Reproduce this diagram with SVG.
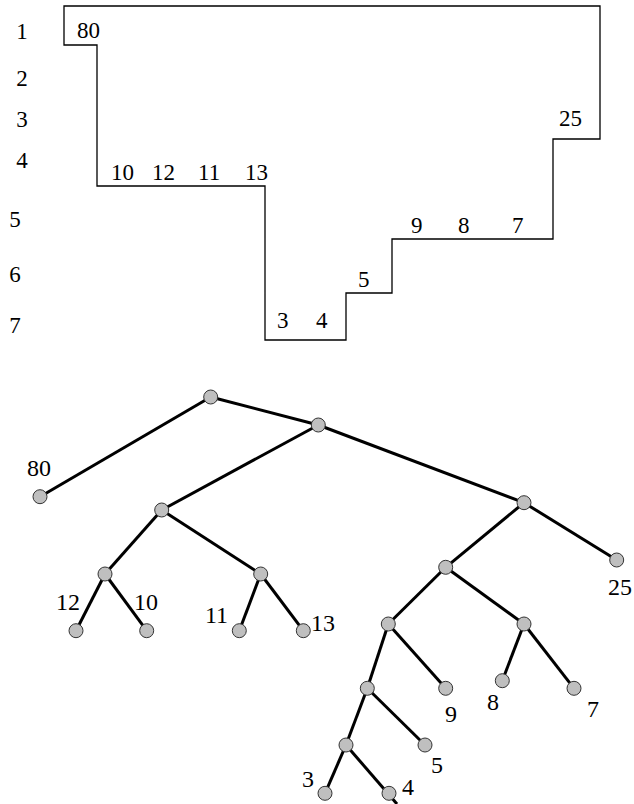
<svg xmlns="http://www.w3.org/2000/svg" width="634" height="804" viewBox="0 0 634 804">
<style>
.t{font-family:"Liberation Serif","Times New Roman",serif;font-size:23px;fill:#000}
.tt{font-family:"Liberation Serif","Times New Roman",serif;font-size:24px;fill:#000}
.e{stroke:#000;stroke-width:3;fill:none}
.n{fill:#bfbfbf;stroke:#333;stroke-width:1}
</style>
<rect width="634" height="804" fill="#fff"/>
<g id="profile">
<path d="M64,6 H600 V139 H553 V239 H392 V293 H346 V340 H265 V186 H97 V45 H64 Z" fill="none" stroke="#000" stroke-width="1.3"/>
</g>
<g id="row-labels" class="t" text-anchor="middle">
<text x="22" y="39">1</text>
<text x="22" y="86">2</text>
<text x="22" y="127">3</text>
<text x="22" y="168">4</text>
<text x="15" y="227">5</text>
<text x="15" y="282">6</text>
<text x="15" y="333">7</text>
</g>
<g id="profile-labels" class="t">
<text x="77" y="38">80</text>
<text x="111" y="180">10</text>
<text x="152" y="180">12</text>
<text x="198" y="180">11</text>
<text x="245" y="180">13</text>
<text x="277" y="328">3</text>
<text x="316" y="328">4</text>
<text x="358" y="287">5</text>
<text x="411" y="233">9</text>
<text x="458" y="233">8</text>
<text x="512" y="233">7</text>
<text x="559" y="126">25</text>
</g>
<g id="connectors" class="e">
<line x1="210.7" y1="397" x2="318.3" y2="425"/>
<line x1="210.7" y1="397" x2="40" y2="496.7"/>
<line x1="318.3" y1="425" x2="161.7" y2="510"/>
<line x1="318.3" y1="425" x2="524" y2="502.7"/>
<line x1="161.7" y1="510" x2="105" y2="574"/>
<line x1="161.7" y1="510" x2="260.7" y2="574"/>
<line x1="105" y1="574" x2="76" y2="630.7"/>
<line x1="105" y1="574" x2="146.7" y2="630.7"/>
<line x1="260.7" y1="574" x2="239.3" y2="630.7"/>
<line x1="260.7" y1="574" x2="303.3" y2="630.7"/>
<line x1="524" y1="502.7" x2="616.7" y2="560"/>
<line x1="524" y1="502.7" x2="445.7" y2="567.3"/>
<line x1="445.7" y1="567.3" x2="388.3" y2="624"/>
<line x1="445.7" y1="567.3" x2="524" y2="624"/>
<line x1="388.3" y1="624" x2="367.3" y2="688.3"/>
<line x1="388.3" y1="624" x2="445.7" y2="688.3"/>
<line x1="524" y1="624" x2="502.3" y2="680.7"/>
<line x1="524" y1="624" x2="574" y2="688.3"/>
<line x1="367.3" y1="688.3" x2="346" y2="745"/>
<line x1="367.3" y1="688.3" x2="425" y2="745"/>
<line x1="346" y1="745" x2="325" y2="793.3"/>
<line x1="346" y1="745" x2="397" y2="804"/>
</g>
<g id="n-root"><circle class="n" cx="210.7" cy="397" r="7"/></g>
<g id="n-a"><circle class="n" cx="318.3" cy="425" r="7"/></g>
<g id="leaf-80"><circle class="n" cx="40" cy="496.7" r="7"/><text class="tt" x="27" y="476">80</text></g>
<g id="n-b"><circle class="n" cx="161.7" cy="510" r="7"/></g>
<g id="n-c"><circle class="n" cx="105" cy="574" r="7"/></g>
<g id="n-d"><circle class="n" cx="260.7" cy="574" r="7"/></g>
<g id="leaf-12"><circle class="n" cx="76" cy="630.7" r="7"/><text class="tt" x="56" y="610">12</text></g>
<g id="leaf-10"><circle class="n" cx="146.7" cy="630.7" r="7"/><text class="tt" x="134" y="610">10</text></g>
<g id="leaf-11"><circle class="n" cx="239.3" cy="630.7" r="7"/><text class="tt" x="205" y="623">11</text></g>
<g id="leaf-13"><circle class="n" cx="303.3" cy="630.7" r="7"/><text class="tt" x="311" y="631">13</text></g>
<g id="n-e"><circle class="n" cx="524" cy="502.7" r="7"/></g>
<g id="leaf-25"><circle class="n" cx="616.7" cy="560" r="7"/><text class="tt" x="608" y="595">25</text></g>
<g id="n-f"><circle class="n" cx="445.7" cy="567.3" r="7"/></g>
<g id="n-g"><circle class="n" cx="388.3" cy="624" r="7"/></g>
<g id="n-h"><circle class="n" cx="524" cy="624" r="7"/></g>
<g id="n-i"><circle class="n" cx="367.3" cy="688.3" r="7"/></g>
<g id="leaf-9"><circle class="n" cx="445.7" cy="688.3" r="7"/><text class="tt" x="445" y="722">9</text></g>
<g id="leaf-8"><circle class="n" cx="502.3" cy="680.7" r="7"/><text class="tt" x="487" y="710">8</text></g>
<g id="leaf-7"><circle class="n" cx="574" cy="688.3" r="7"/><text class="tt" x="587" y="717">7</text></g>
<g id="n-j"><circle class="n" cx="346" cy="745" r="7"/></g>
<g id="leaf-5"><circle class="n" cx="425" cy="745" r="7"/><text class="tt" x="431" y="773">5</text></g>
<g id="leaf-3"><circle class="n" cx="325" cy="793.3" r="7"/><text class="tt" x="302" y="787">3</text></g>
<g id="leaf-4"><circle class="n" cx="389" cy="793.3" r="7"/><text class="tt" x="402" y="795">4</text></g>
</svg>
